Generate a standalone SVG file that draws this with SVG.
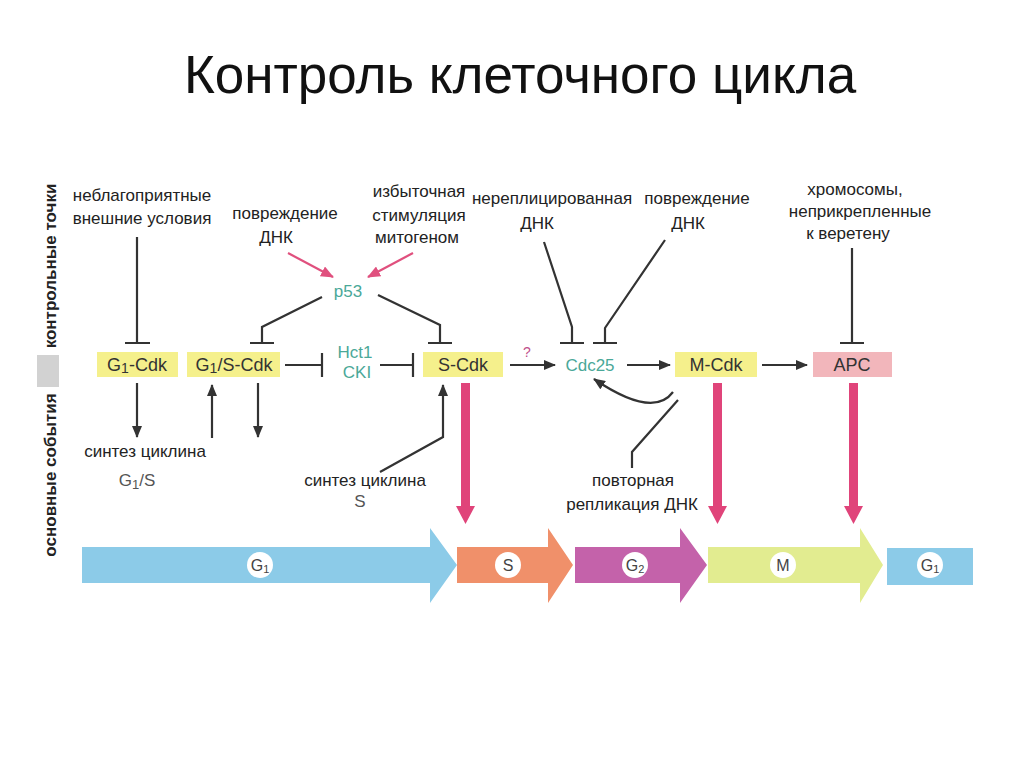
<svg xmlns="http://www.w3.org/2000/svg" width="1024" height="767" viewBox="0 0 1024 767">
<defs>
<marker id="ab" markerUnits="userSpaceOnUse" markerWidth="12" markerHeight="10" refX="11" refY="5" orient="auto"><path d="M0,0 L12,5 L0,10 Z" fill="#333"/></marker>
<marker id="ap" markerUnits="userSpaceOnUse" markerWidth="13" markerHeight="11" refX="12" refY="5.5" orient="auto"><path d="M0,0 L13,5.5 L0,11 Z" fill="#e0507e"/></marker>
<style>
.t{font-family:"Liberation Sans",Arial,sans-serif;font-size:17px;fill:#222;text-anchor:middle}
.n{font-family:"Liberation Sans",Arial,sans-serif;font-size:18px;fill:#333;text-anchor:middle}
.g{font-family:"Liberation Sans",Arial,sans-serif;font-size:17px;fill:#4aa898;text-anchor:middle}
.v{font-family:"Liberation Sans",Arial,sans-serif;font-size:17px;font-weight:bold;fill:#222;text-anchor:middle}
.ph{font-family:"Liberation Sans",Arial,sans-serif;font-size:16px;fill:#444;text-anchor:middle}
.yl{fill:#f5f08c}
.c{fill:none;stroke:#333;stroke-width:2.2}
.pk{fill:#e0447a}
</style>
</defs>
<rect width="1024" height="767" fill="#fff"/>
<text x="520" y="93" style="font-family:'Liberation Sans',Arial,sans-serif;font-size:53px;fill:#111;text-anchor:middle">Контроль клеточного цикла</text>

<g id="side-labels">
<text class="v" transform="translate(56,266) rotate(-90)">контрольные точки</text>
<rect x="37" y="355" width="22" height="32" fill="#d2d2d2"/>
<text class="v" transform="translate(56,475) rotate(-90)">основные события</text>
</g>

<g id="labels">
<text class="t" x="142" y="201">неблагоприятные</text>
<text class="t" x="142" y="224">внешние условия</text>
<text class="t" x="285" y="219">повреждение</text>
<text class="t" x="276" y="243">ДНК</text>
<text class="t" x="419" y="197">избыточная</text>
<text class="t" x="419" y="221">стимуляция</text>
<text class="t" x="417" y="243">митогеном</text>
<text class="t" x="552" y="204">нереплицированная</text>
<text class="t" x="537" y="229">ДНК</text>
<text class="t" x="697" y="204">повреждение</text>
<text class="t" x="688" y="229">ДНК</text>
<text class="t" x="855" y="195">хромосомы,</text>
<text class="t" x="860" y="217">неприкрепленные</text>
<text class="t" x="848" y="239">к веретену</text>
<text class="t" x="145" y="457">синтез циклина</text>
<text class="t" x="137" y="486" style="fill:#555">G<tspan font-size="13" dy="3">1</tspan><tspan dy="-3">/S</tspan></text>
<text class="t" x="365" y="486">синтез циклина</text>
<text class="t" x="360" y="507" style="fill:#555">S</text>
<text class="t" x="633" y="486">повторная</text>
<text class="t" x="632" y="510">репликация ДНК</text>
</g>

<g id="node-g1cdk"><rect class="yl" x="97" y="352" width="81" height="25"/><text class="n" x="137" y="371">G<tspan font-size="14" dy="2">1</tspan><tspan dy="-2">-Cdk</tspan></text></g>
<g id="node-g1scdk"><rect class="yl" x="187" y="352" width="93" height="25"/><text class="n" x="234" y="371">G<tspan font-size="14" dy="2">1</tspan><tspan dy="-2">/S-Cdk</tspan></text></g>
<g id="node-hct1"><text class="g" x="355" y="358">Hct1</text><text class="g" x="357" y="378">CKI</text></g>
<g id="node-p53"><text class="g" x="348" y="297">p53</text></g>
<g id="node-scdk"><rect class="yl" x="423" y="352" width="80" height="25"/><text class="n" x="463" y="371">S-Cdk</text></g>
<g id="node-cdc25"><text class="g" x="590" y="371">Cdc25</text></g>
<g id="node-mcdk"><rect class="yl" x="675" y="352" width="82" height="25"/><text class="n" x="716" y="371">M-Cdk</text></g>
<g id="node-apc"><rect x="813" y="352" width="79" height="25" fill="#f2b6bb"/><text class="n" x="852" y="371">APC</text></g>

<g id="connectors">
<path class="c" d="M137,237 V343 M125,343 H150"/>
<path class="c" d="M322,297 L262,327 V343 M250,343 H274"/>
<path class="c" d="M378,295 L440,325 V343 M428,343 H452"/>
<path d="M288,253 L333,277" stroke="#e0507e" stroke-width="2.2" marker-end="url(#ap)"/>
<path d="M413,253 L368,277" stroke="#e0507e" stroke-width="2.2" marker-end="url(#ap)"/>
<path class="c" d="M285,365 H322 M322,353 V377"/>
<path class="c" d="M380,365 H413 M413,353 V377"/>
<path class="c" d="M510,365 H555" marker-end="url(#ab)"/>
<text x="527" y="357" style="font-family:'Liberation Sans',Arial,sans-serif;font-size:14px;fill:#c0508a;text-anchor:middle">?</text>
<path class="c" d="M627,365 H670" marker-end="url(#ab)"/>
<path class="c" d="M762,365 H807" marker-end="url(#ab)"/>
<path class="c" d="M544,242 L572,327 V343 M560,343 H584"/>
<path class="c" d="M665,240 L605,328 V343 M593,343 H617"/>
<path class="c" d="M852,248 V343 M840,343 H864"/>
<path class="c" d="M137,383 V437" marker-end="url(#ab)"/>
<path class="c" d="M212,438 V385" marker-end="url(#ab)"/>
<path class="c" d="M258,383 V437" marker-end="url(#ab)"/>
<path class="c" d="M380,472 L443,437 V385" marker-end="url(#ab)"/>
<path class="c" d="M673,392 Q653,419 594,379" marker-end="url(#ab)"/>
<path class="c" d="M678,400 L632,452 V468"/>
<polygon class="pk" points="461,383 470,383 470,506 475,506 465.5,524 456,506 461,506"/>
<polygon class="pk" points="713,383 722,383 722,506 727,506 717.5,524 708,506 713,506"/>
<polygon class="pk" points="849,383 858,383 858,506 863,506 853.5,524 844,506 849,506"/>
</g>

<g id="phases">
<polygon points="82,547 430,547 430,528 457,565 430,603 430,583 82,583" fill="#8ccbe8"/>
<polygon points="457,547 548,547 548,528 573,565 548,603 548,583 457,583" fill="#f0906a"/>
<polygon points="575,547 680,547 680,528 707,565 680,603 680,583 575,583" fill="#c462aa"/>
<polygon points="708,547 860,547 860,528 883,565 860,603 860,583 708,583" fill="#e2ec90"/>
<rect x="887" y="548" width="86" height="37" fill="#8ccbe8"/>
<circle cx="260" cy="565" r="13" fill="#fff"/><text class="ph" x="260" y="571">G<tspan font-size="11" dy="2">1</tspan></text>
<circle cx="508" cy="565" r="13" fill="#fff"/><text class="ph" x="508" y="571">S</text>
<circle cx="635" cy="565" r="13" fill="#fff"/><text class="ph" x="635" y="571">G<tspan font-size="11" dy="2">2</tspan></text>
<circle cx="783" cy="565" r="13" fill="#fff"/><text class="ph" x="783" y="571">M</text>
<circle cx="930" cy="565" r="13" fill="#fff"/><text class="ph" x="930" y="571">G<tspan font-size="11" dy="2">1</tspan></text>
</g>
</svg>
